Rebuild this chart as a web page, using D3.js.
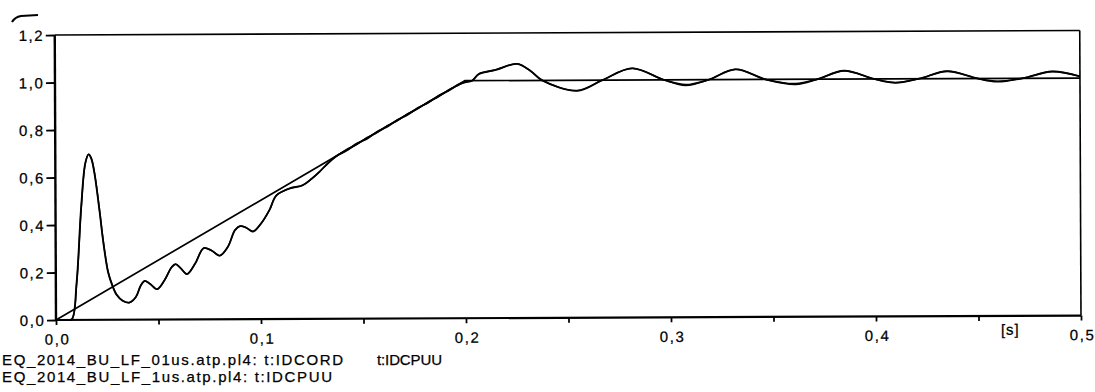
<!DOCTYPE html>
<html>
<head>
<meta charset="utf-8">
<script src="https://cdn.jsdelivr.net/npm/d3@7"></script>
<style>
  body { margin: 0; background: #fff; }
  text { font-family: "Liberation Sans", Arial, sans-serif; fill: #000; stroke: #000; stroke-width: 0.25px; }
</style>
</head>
<body>
<div id="container"></div>
<script>
// tick values
var yTicks = [0, 0.2, 0.4, 0.6, 0.8, 1.0, 1.2];
var xTicks = [0, 0.1, 0.2, 0.3, 0.4, 0.5];
var xMinorTicks = [0.05, 0.15, 0.25, 0.35, 0.45];

// t:IDCORD (reference ramp)
var idcord = [[0, 0], [0.2, 1.0], [0.5, 1.0]];

// t:IDCPUU, 0.1us step
var idcpuu01 = [
  [0, 0], [0.005, 0], [0.0077, 0.003], [0.0101, 0.155], [0.0125, 0.475], [0.0146, 0.66],
  [0.0162, 0.697], [0.0175, 0.68], [0.019, 0.62], [0.0215, 0.455], [0.0231, 0.335],
  [0.0255, 0.2], [0.0275, 0.145], [0.0296, 0.105], [0.0325, 0.08], [0.0358, 0.072],
  [0.039, 0.095], [0.0415, 0.145], [0.0434, 0.163], [0.046, 0.15], [0.0494, 0.128],
  [0.053, 0.165], [0.0565, 0.22], [0.0585, 0.233], [0.061, 0.215], [0.064, 0.191],
  [0.068, 0.235], [0.0722, 0.3], [0.076, 0.29], [0.08, 0.268], [0.084, 0.305],
  [0.0875, 0.375], [0.09, 0.392], [0.093, 0.385], [0.0963, 0.369], [0.1, 0.4],
  [0.1044, 0.46], [0.1077, 0.52], [0.114, 0.549], [0.1206, 0.563], [0.125, 0.59],
  [0.1288, 0.619], [0.133, 0.655], [0.1377, 0.688], [0.142, 0.707], [0.147, 0.737],
  [0.152, 0.757], [0.157, 0.787], [0.162, 0.808], [0.167, 0.837], [0.172, 0.858],
  [0.177, 0.887], [0.182, 0.908], [0.187, 0.937], [0.192, 0.958], [0.197, 0.985],
  [0.2, 0.993], [0.2035, 1.0], [0.2068, 1.028], [0.215, 1.045], [0.2255, 1.07],
  [0.232, 1.04], [0.2377, 1.0], [0.2548, 0.955], [0.267, 1.0], [0.2816, 1.049],
  [0.297, 1.0], [0.3076, 0.979], [0.319, 1.0], [0.332, 1.043], [0.3467, 1.0],
  [0.3613, 0.979], [0.372, 1.0], [0.385, 1.035], [0.3995, 1.0], [0.41, 0.983],
  [0.4215, 1.0], [0.4353, 1.031], [0.45, 1.0], [0.4597, 0.986], [0.472, 1.0],
  [0.4865, 1.028], [0.5, 1.007]
];

// t:IDCPUU, 1us step (lies on top of the 0.1us one)
var idcpuu1 = [
  [0, 0], [0.005, 0], [0.0078, 0.003], [0.0102, 0.155], [0.0126, 0.475], [0.0147, 0.66],
  [0.0163, 0.697], [0.0176, 0.68], [0.0191, 0.62], [0.0216, 0.455], [0.0232, 0.335],
  [0.0256, 0.2], [0.0276, 0.145], [0.0297, 0.105], [0.0326, 0.08], [0.0359, 0.072],
  [0.039, 0.095], [0.0415, 0.145], [0.0434, 0.163], [0.046, 0.15], [0.0494, 0.128],
  [0.053, 0.165], [0.0565, 0.22], [0.0585, 0.233], [0.061, 0.215], [0.064, 0.191],
  [0.068, 0.235], [0.0722, 0.3], [0.076, 0.29], [0.08, 0.268], [0.084, 0.305],
  [0.0875, 0.375], [0.09, 0.392], [0.093, 0.385], [0.0963, 0.369], [0.1, 0.4],
  [0.1044, 0.46], [0.1077, 0.52], [0.114, 0.549], [0.1206, 0.563], [0.125, 0.59],
  [0.1288, 0.619], [0.133, 0.655], [0.1377, 0.688], [0.142, 0.712], [0.147, 0.733],
  [0.152, 0.762], [0.157, 0.783], [0.162, 0.812], [0.167, 0.833], [0.172, 0.862],
  [0.177, 0.883], [0.182, 0.912], [0.187, 0.933], [0.192, 0.962], [0.197, 0.982],
  [0.2, 0.995], [0.2035, 1.0], [0.2068, 1.028], [0.215, 1.045], [0.2255, 1.07],
  [0.232, 1.04], [0.2377, 1.0], [0.2548, 0.957], [0.267, 1.0], [0.2816, 1.049],
  [0.297, 1.0], [0.3076, 0.976], [0.319, 1.0], [0.332, 1.043], [0.3467, 1.0],
  [0.3613, 0.982], [0.372, 1.0], [0.385, 1.035], [0.3995, 1.0], [0.41, 0.985],
  [0.4215, 1.0], [0.4353, 1.031], [0.45, 1.0], [0.4597, 0.988], [0.472, 1.0],
  [0.4865, 1.028], [0.5, 1.007]
];

var width = 1095;
var height = 392;
var plotLeft = 56, plotRight = 1081, plotTop = 35, plotBottom = 320;

var fmt = d3.formatLocale({ decimal: ",", thousands: ".", grouping: [3], currency: ["", ""] }).format(".1f");

var x = d3.scaleLinear().domain([0, 0.5]).range([plotLeft, plotRight]);
var y = d3.scaleLinear().domain([0, 1.2]).range([plotBottom, plotTop]);

var svg = d3.select("#container")
    .append("svg")
    .attr("width", width)
    .attr("height", height);

svg.append("rect").attr("width", width).attr("height", height).attr("fill", "#fff");

// the scanned plot is slightly tilted
var g = svg.append("g").attr("transform", "rotate(-0.25," + plotLeft + "," + plotBottom + ")");

// y axis
var yAxis = g.append("g")
    .attr("transform", "translate(" + plotLeft + ",0)")
    .call(d3.axisLeft(y).tickValues(yTicks).tickSize(9).tickPadding(3).tickFormat(fmt));
yAxis.selectAll("text")
    .attr("font-size", 15).attr("letter-spacing", 1.6).attr("dx", 1.5).attr("dy", "0.36em");
yAxis.selectAll(".tick line").attr("stroke-width", 1.8);

// x axis, labelled ticks
var xAxis = g.append("g")
    .attr("transform", "translate(0," + plotBottom + ")")
    .call(d3.axisBottom(x).tickValues(xTicks).tickSize(5).tickPadding(9).tickFormat(fmt));
xAxis.selectAll("text")
    .attr("font-size", 15).attr("letter-spacing", 1.6).attr("dx", 1);
xAxis.selectAll(".tick line").attr("stroke-width", 1.8);

// x axis, minor ticks
var xMinor = g.append("g")
    .attr("transform", "translate(0," + plotBottom + ")")
    .call(d3.axisBottom(x).tickValues(xMinorTicks).tickSize(5).tickFormat(""));
xMinor.selectAll(".tick line").attr("stroke-width", 1.8);

g.selectAll(".domain").remove();
g.selectAll(".tick text").attr("stroke", "#000").attr("stroke-width", 0.25);

// frame
g.append("line").attr("x1", plotLeft).attr("x2", plotRight).attr("y1", plotTop).attr("y2", plotTop)
    .attr("stroke", "#000").attr("stroke-width", 1.6);
g.append("line").attr("x1", plotRight).attr("x2", plotRight).attr("y1", plotTop).attr("y2", plotBottom)
    .attr("stroke", "#000").attr("stroke-width", 1.6);
g.append("line").attr("x1", plotLeft).attr("x2", plotRight).attr("y1", plotBottom).attr("y2", plotBottom)
    .attr("stroke", "#000").attr("stroke-width", 2.2);
g.append("line").attr("x1", plotLeft).attr("x2", plotLeft).attr("y1", plotTop).attr("y2", plotBottom + 1)
    .attr("stroke", "#000").attr("stroke-width", 2.4);

// curves
var line = d3.line()
    .x(function (d) { return x(d[0]); })
    .y(function (d) { return y(d[1]); });
var smooth = d3.line()
    .x(function (d) { return x(d[0]); })
    .y(function (d) { return y(d[1]); })
    .curve(d3.curveCatmullRom.alpha(0.5));

g.append("path").attr("d", line(idcord))
    .attr("fill", "none").attr("stroke", "#000").attr("stroke-width", 1.7);
g.append("path").attr("d", smooth(idcpuu1))
    .attr("fill", "none").attr("stroke", "#000").attr("stroke-width", 1.5);
g.append("path").attr("d", smooth(idcpuu01))
    .attr("fill", "none").attr("stroke", "#000").attr("stroke-width", 1.8);

// unit label
g.append("text").attr("x", x(0.4655)).attr("y", plotBottom + 19)
    .attr("text-anchor", "middle").attr("font-size", 15).attr("letter-spacing", 1)
    .text("[s]");

// small hook mark above the y axis
svg.append("path").attr("d", "M38,15 L21,16 Q15,17 12,22")
    .attr("fill", "none").attr("stroke", "#000").attr("stroke-width", 2.2);

// legend
var legend = svg.append("g").attr("font-size", 15);
legend.append("text").attr("x", 2).attr("y", 365)
    .attr("textLength", 341).attr("lengthAdjust", "spacing")
    .text("EQ_2014_BU_LF_01us.atp.pl4: t:IDCORD");
legend.append("text").attr("x", 377).attr("y", 365)
    .attr("textLength", 65).attr("lengthAdjust", "spacing")
    .text("t:IDCPUU");
legend.append("text").attr("x", 2).attr("y", 382)
    .attr("textLength", 330).attr("lengthAdjust", "spacing")
    .text("EQ_2014_BU_LF_1us.atp.pl4: t:IDCPUU");
</script>
</body>
</html>
